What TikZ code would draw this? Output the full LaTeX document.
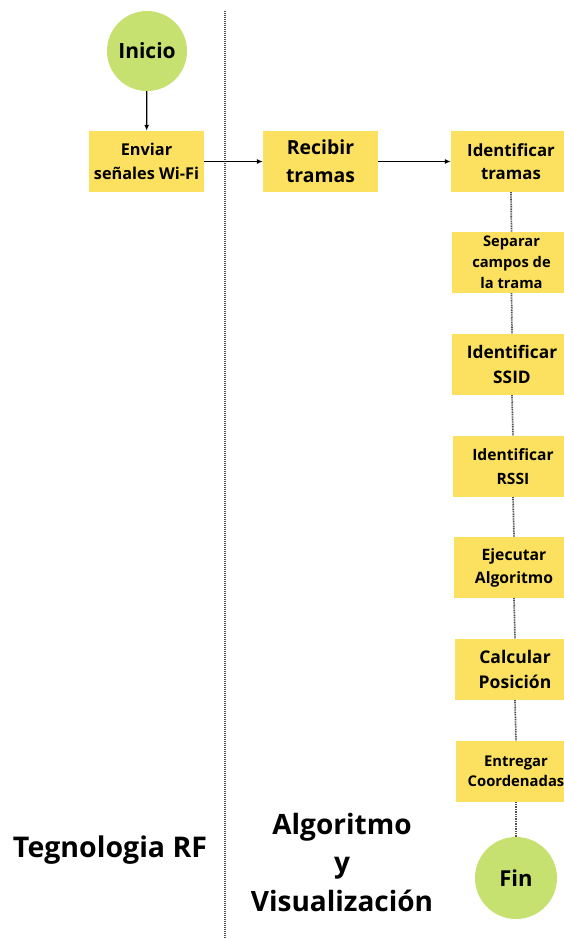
\documentclass[tikz,border=0pt]{standalone}
\usepackage{fontspec}
\setmainfont{Open Sans}
\usetikzlibrary{arrows.meta}
\definecolor{boxyellow}{HTML}{FCE160}
\definecolor{circgreen}{HTML}{C6E16F}
\definecolor{divgray}{HTML}{505050}
\newcommand{\fs}[2]{\fontsize{#1}{#2}\selectfont\bfseries}
\tikzset{
  stepbox/.style={fill=boxyellow, draw=none, minimum width=120pt, minimum height=61pt,
    inner sep=0pt, align=center, text=black},
  endpoint/.style={circle, fill=circgreen, draw=none, inner sep=0pt, align=center},
  flow/.style={-{Latex[length=6pt,width=5pt]}, line width=1.3pt, black},
  chain/.style={line width=1.7pt, divgray, dash pattern=on 1pt off 0.7pt},
  divider/.style={line width=1.5pt, divgray, dash pattern=on 1pt off 1pt},
  lanetitle/.style={align=center, text=black}
}
\begin{document}
\begin{tikzpicture}[x=1pt,y=-1pt]
\useasboundingbox (0,0) rectangle (564,938);
\clip (0,0) rectangle (564,938);
\fill[white] (0,0) rectangle (564,938);

% lane separator
\coordinate (divtop) at (225,11);
\coordinate (divbot) at (225,938);
\draw[divider] (divtop) -- (divbot);

% start and first steps
\node[endpoint, minimum size=80pt, font=\fs{21}{25}] (inicio) at (147,51) {Inicio};
\node[stepbox, minimum width=115pt, font=\fs{16.3}{24}] (enviar) at (146.5,161.5) {Enviar\\señales Wi-Fi};
\node[stepbox, minimum width=115pt, font=\fs{19.4}{28}] (recibir) at (320.5,161.5) {Recibir\\tramas};

% processing chain
\node[stepbox, font=\fs{16.8}{23.5}] (idtramas) at (511,161.5) {Identificar\\tramas};
\node[stepbox, font=\fs{14.7}{21}] (separar) at (511.5,262.5) {Separar\\campos de\\la trama};
\node[stepbox, font=\fs{17.3}{24.5}] (ssid) at (512,364.5) {Identificar\\SSID};
\node[stepbox, font=\fs{15.6}{24}] (rssi) at (513,466.5) {Identificar\\RSSI};
\node[stepbox, font=\fs{15.7}{23}] (ejecutar) at (514,567.5) {Ejecutar\\Algoritmo};
\node[stepbox, font=\fs{17.5}{25.5}] (calcular) at (515,669.5) {Calcular\\Posición};
\node[stepbox, font=\fs{14.8}{20.5}] (entregar) at (516,771.5) {Entregar\\Coordenadas};
\node[endpoint, minimum size=82pt, font=\fs{22}{26}] (fin) at (516,878) {Fin};

% connectors
\draw[flow] (inicio) -- (enviar);
\draw[flow] (enviar) -- (recibir);
\draw[flow] (recibir) -- (idtramas);
\draw[chain] (idtramas.south) -- (separar.north);
\draw[chain] (separar.south) -- (ssid.north);
\draw[chain] (ssid.south) -- (rssi.north);
\draw[chain] (rssi.south) -- (ejecutar.north);
\draw[chain] (ejecutar.south) -- (calcular.north);
\draw[chain] (calcular.south) -- (entregar.north);
\draw[chain] (entregar.south) -- (fin.north);

% lane titles
\node[lanetitle, font=\fs{28.5}{34}] (laneRF) at (110,850) {Tegnologia RF};
\node[lanetitle, font=\fs{28}{38.5}] (laneAlg) at (342,862) {Algoritmo\\y\\Visualización};
\end{tikzpicture}
\end{document}
